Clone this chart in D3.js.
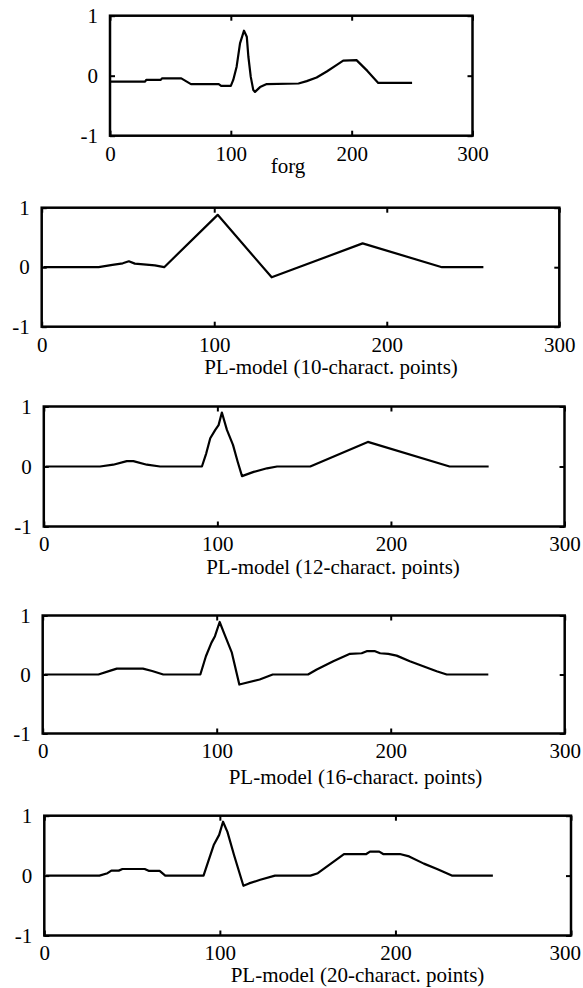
<!DOCTYPE html>
<html>
<head>
<meta charset="utf-8">
<script src="https://cdn.jsdelivr.net/npm/d3@7"></script>
<style>
  body { margin: 0; background: #fff; }
  svg text { font-family: "Liberation Serif", "Times New Roman", serif; fill: #000; }
</style>
</head>
<body>
<div id="chart"></div>
<script>
// ticks shared by every panel
const xTicks = [0, 100, 200, 300]
const yTicks = [-1, 0, 1]

const titles = ["forg",
  "PL-model (10-charact. points)",
  "PL-model (12-charact. points)",
  "PL-model (16-charact. points)",
  "PL-model (20-charact. points)"]

// original signal
const forgX = [0, 29, 30, 42, 43, 59, 67, 90, 92, 100, 102, 104.8, 107.6, 110.9, 113.2, 114.5, 116.5, 118.6, 120, 124.2, 129.7, 156, 162.8, 171, 179.4, 187.7, 193, 204, 213, 222, 250]
const forgY = [-0.1, -0.1, -0.07, -0.07, -0.045, -0.045, -0.14, -0.14, -0.17, -0.17, -0.07, 0.15, 0.54, 0.75, 0.65, 0.32, -0.02, -0.24, -0.27, -0.19, -0.14, -0.13, -0.09, -0.03, 0.07, 0.18, 0.25, 0.26, 0.08, -0.12, -0.12]

// piecewise linear models
const pl10X = [1, 33, 41, 47, 50.5, 54, 65.6, 71, 102, 133.3, 186, 232, 256]
const pl10Y = [0, 0, 0.04, 0.065, 0.1, 0.06, 0.03, 0, 0.88, -0.17, 0.4, 0, 0]

const pl12X = [1, 32.4, 40, 47.8, 51.6, 59.4, 67, 91.1, 93.6, 95.9, 98.8, 100.7, 102.6, 105.5, 109, 111.7, 114.2, 120.9, 128.6, 134.4, 153.5, 186.7, 233.8, 256.3]
const pl12Y = [0, 0, 0.03, 0.09, 0.09, 0.03, 0, 0, 0.22, 0.47, 0.61, 0.69, 0.9, 0.61, 0.36, 0.08, -0.16, -0.09, -0.03, 0, 0, 0.41, 0, 0]

const pl16X = [1, 32, 39.4, 42.6, 57.6, 62.9, 69.3, 90.6, 93.8, 97, 99, 101.7, 104.5, 108.7, 113, 124.7, 132.2, 152.5, 157.5, 167, 176.6, 183.3, 186.2, 191, 193.9, 198.6, 203.4, 211, 218.7, 226.4, 232.2, 256.1]
const pl16Y = [0, 0, 0.07, 0.1, 0.1, 0.06, 0, 0, 0.31, 0.54, 0.65, 0.89, 0.68, 0.37, -0.17, -0.085, 0, 0, 0.085, 0.225, 0.35, 0.36, 0.395, 0.395, 0.36, 0.35, 0.32, 0.225, 0.14, 0.056, 0, 0]

const pl20X = [1, 31.4, 36, 38.2, 42.4, 44.5, 57.2, 59.4, 65.7, 68.9, 90.7, 93.3, 96.5, 99.6, 101.8, 104.3, 108.1, 113.4, 116.6, 123, 131.4, 151.6, 155.8, 170.7, 183.4, 185.5, 190.8, 193, 202.5, 207.8, 216.2, 223.7, 232.1, 255.5]
const pl20Y = [0, 0, 0.04, 0.083, 0.083, 0.11, 0.11, 0.08, 0.08, 0, 0, 0.23, 0.51, 0.68, 0.9, 0.73, 0.34, -0.17, -0.13, -0.07, 0, 0, 0.04, 0.36, 0.36, 0.4, 0.4, 0.36, 0.36, 0.32, 0.2, 0.11, 0, 0]

const seriesX = [forgX, pl10X, pl12X, pl16X, pl20X]
const seriesY = [forgY, pl10Y, pl12Y, pl16Y, pl20Y]

// frame of each panel in pixels, and where its caption sits
const boxes = [
  { l: 110,  r: 472.5, t: 15.7,  b: 135.7, tx: 288,   ty: 173 },
  { l: 41.7, r: 559.3, t: 207.7, b: 326.7, tx: 331,   ty: 374 },
  { l: 43.8, r: 564.5, t: 406.5, b: 526.5, tx: 333,   ty: 573.5 },
  { l: 42.7, r: 564.7, t: 615.5, b: 733.5, tx: 355.5, ty: 783.5 },
  { l: 44.3, r: 571,   t: 815.7, b: 935.5, tx: 357.5, ty: 982 }
]

const width = 583
const height = 988
const fontSize = 21

const svg = d3.select("#chart")
  .append("svg")
    .attr("width", width)
    .attr("height", height)

boxes.forEach((box, i) => {
  const x = d3.scaleLinear().domain([0, 300]).range([box.l, box.r])
  const y = d3.scaleLinear().domain([-1, 1]).range([box.b, box.t])

  const g = svg.append("g").attr("class", "panel")

  // inward ticks on all four sides, labels only bottom and left
  const bottom = g.append("g")
    .attr("transform", "translate(0," + box.b + ")")
    .call(d3.axisBottom(x).tickValues(xTicks).tickSize(-5).tickSizeOuter(0).tickPadding(10).tickFormat(d => String(d)))
  const top = g.append("g")
    .attr("transform", "translate(0," + box.t + ")")
    .call(d3.axisTop(x).tickValues(xTicks).tickSize(-5).tickSizeOuter(0).tickFormat(""))
  const left = g.append("g")
    .attr("transform", "translate(" + box.l + ",0)")
    .call(d3.axisLeft(y).tickValues(yTicks).tickSize(-5).tickSizeOuter(0).tickPadding(12).tickFormat(d => String(d)))
  const right = g.append("g")
    .attr("transform", "translate(" + box.r + ",0)")
    .call(d3.axisRight(y).tickValues(yTicks).tickSize(-5).tickSizeOuter(0).tickFormat(""))

  ;[bottom, top, left, right].forEach(ax => {
    ax.select(".domain").remove()
    ax.selectAll("line").attr("stroke", "#000").attr("stroke-width", 2)
    ax.selectAll("text")
      .attr("font-size", fontSize)
      .attr("font-family", "Liberation Serif, Times New Roman, serif")
      .attr("fill", "#000")
  })

  // keep the last x label inside the page
  bottom.selectAll("text").each(function() {
    const bb = this.getBBox()
    const tr = d3.select(this.parentNode).attr("transform")
    const tx = +tr.match(/translate\(([-\d.]+)/)[1]
    const over = tx + bb.x + bb.width - (width - 2)
    if (over > 0) d3.select(this).attr("x", -over)
  })

  g.append("rect")
    .attr("x", box.l)
    .attr("y", box.t)
    .attr("width", box.r - box.l)
    .attr("height", box.b - box.t)
    .attr("fill", "none")
    .attr("stroke", "#000")
    .attr("stroke-width", 2.5)

  const pts = seriesX[i].map((d, j) => [d, seriesY[i][j]])
  const line = d3.line().x(d => x(d[0])).y(d => y(d[1]))

  g.append("path")
    .datum(pts)
    .attr("d", line)
    .attr("fill", "none")
    .attr("stroke", "#000")
    .attr("stroke-width", 2.2)
    .attr("stroke-linejoin", "round")

  g.append("text")
    .text(titles[i])
    .attr("x", box.tx)
    .attr("y", box.ty)
    .attr("text-anchor", "middle")
    .attr("font-size", fontSize)
})
</script>
</body>
</html>
